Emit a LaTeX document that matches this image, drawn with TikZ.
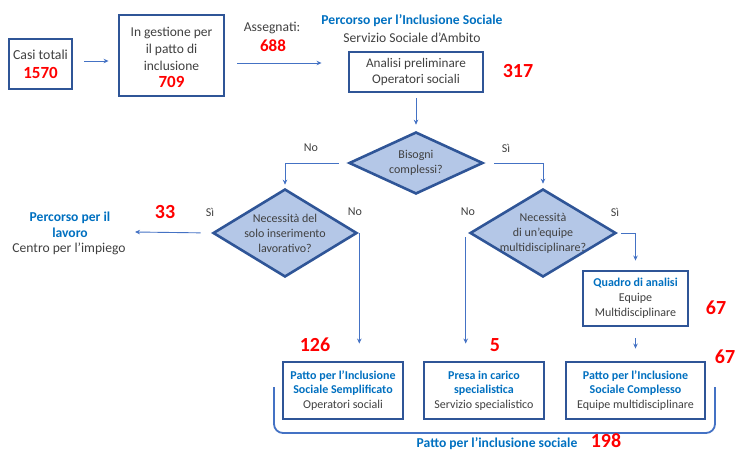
\documentclass[tikz,border=0pt]{standalone}
\usepackage{fontspec}
\setmainfont{Carlito}
\usetikzlibrary{shapes.geometric,arrows.meta}

\definecolor{boxblue}{HTML}{2F5597}
\definecolor{fillblue}{HTML}{B4C7E7}
\definecolor{linkblue}{HTML}{4472C4}
\definecolor{headblue}{HTML}{0070C0}
\definecolor{numred}{HTML}{FF0000}
\definecolor{ink}{HTML}{404040}

\newcommand{\bignum}[1]{{\color{numred}\bfseries\fontsize{17}{20}\selectfont #1}}
\newcommand{\headtxt}[1]{{\color{headblue}\bfseries #1}}

\tikzset{
  box/.style={draw=boxblue, line width=2.9pt, fill=white, inner sep=0pt,
              align=center, text=ink, font=\fontsize{12}{14.5}\selectfont},
  decision/.style={diamond, draw=boxblue, line width=2.6pt, fill=fillblue,
                   inner sep=0pt},
  dtext/.style={align=center, text=ink, font=\fontsize{12}{15}\selectfont},
  arr/.style={draw=linkblue, line width=0.9pt,
              -{Stealth[length=5pt,width=4.5pt]}},
  num/.style={text=numred, inner sep=1pt, font=\fontsize{20}{22}\selectfont\bfseries},
  lab/.style={text=ink, font=\fontsize{12}{14}\selectfont},
  plain/.style={text=ink, align=center, font=\fontsize{13.6}{16}\selectfont},
  head/.style={text=headblue, align=center,
               font=\fontsize{13.6}{16}\selectfont\bfseries},
}

\begin{document}
\begin{tikzpicture}[x=1pt,y=-1pt]
  \useasboundingbox (0,0) rectangle (737,453);

  % intake
  \node[box, minimum width=63pt, minimum height=50pt,
        font=\fontsize{13.8}{19}\selectfont] (tot) at (40.5,64)
       {Casi totali\\\bignum{1570}};
  \node[box, minimum width=105pt, minimum height=81pt,
        label={[align=center, text=ink, font=\fontsize{13.5}{16.8}\selectfont,
                yshift=-2pt]center:{In gestione per\\il patto di\\inclusione\\\bignum{709}}}]
       (gest) at (171.5,55.5) {};
  \node[plain] (ass) at (272,28) {Assegnati:};
  \node[text=numred, font=\fontsize{17}{20}\selectfont\bfseries] (n688) at (273,46) {688};

  % social inclusion path
  \node[head] (pis) at (412,21) {Percorso per l’Inclusione Sociale};
  \node[plain] (ssa) at (412,38) {Servizio Sociale d’Ambito};
  \node[box, minimum width=134pt, minimum height=40pt,
        font=\fontsize{13.2}{15.5}\selectfont] (anal) at (416,72)
       {Analisi preliminare\\Operatori sociali};
  \node[num] (n317) at (518,71) {317};

  % decisions
  \node[decision, minimum width=134pt, minimum height=62pt,
        label={[dtext]center:{Bisogni\\complessi?}}] (d1) at (416,163) {};
  \node[decision, minimum width=144pt, minimum height=88pt,
        label={[dtext]center:{Necessità del\\solo inserimento\\lavorativo?}}] (d2) at (285,233) {};
  \node[decision, minimum width=146pt, minimum height=88pt,
        label={[dtext]center:{Necessità\\di un’equipe\\multidisciplinare?}}] (d3) at (543,233) {};

  % work path
  \node[head] (lav) at (70,225) {Percorso per il\\lavoro};
  \node[plain] (cpi) at (69,249) {Centro per l’impiego};
  \coordinate (lavend) at (135,232);
  \node[num] (n33) at (165,212) {33};

  % multidisciplinary analysis
  \node[box, minimum width=105pt, minimum height=55pt,
        font=\fontsize{12}{15}\selectfont] (quad) at (635.5,298.5)
       {\headtxt{Quadro di analisi}\\Equipe\\Multidisciplinare};
  \node[num] (n67a) at (716,308) {67};

  % outcomes
  \node[box, minimum width=120pt, minimum height=57pt] (s1) at (343,390.5)
       {\headtxt{Patto per l’Inclusione}\\\headtxt{Sociale Semplificato}\\Operatori sociali};
  \node[box, minimum width=120pt, minimum height=57pt] (s2) at (484,390.5)
       {\headtxt{Presa in carico}\\\headtxt{specialistica}\\Servizio specialistico};
  \node[box, minimum width=139pt, minimum height=57pt] (s3) at (635.5,390.5)
       {\headtxt{Patto per l’Inclusione}\\\headtxt{Sociale Complesso}\\Equipe multidisciplinare};
  \node[num] (n126) at (315,345) {126};
  \node[num] (n5) at (495,345) {5};
  \node[num] (n67b) at (725,357) {67};

  % connectors
  \draw[arr, shorten <=11pt, shorten >=9pt]
    ([yshift=3pt]tot.east) -- ([yshift=3pt]tot.east -| gest.west);
  \draw[arr, shorten <=12pt, shorten >=26pt]
    ([yshift=-7.5pt]gest.east) -- ([yshift=-7.5pt]gest.east -| anal.west);
  \draw[arr, shorten <=5pt, shorten >=6pt] (anal.south) -- (d1.north);
  \draw[arr, shorten <=9pt, shorten >=3pt] (d1.west) -| (d2.north);
  \draw[arr, shorten <=10pt, shorten >=4pt] (d1.east) -| (d3.north);
  \draw[arr, shorten <=11pt] (d2.west) -- (lavend);
  \draw[arr, shorten >=17pt] ([xshift=1pt]d2.east) -- ([xshift=1pt]d2.east |- s1.north);
  \draw[arr, shorten >=17pt] ([xshift=-3pt,yshift=-4pt]d3.west) -- ([xshift=-3pt]d3.west |- s2.north);
  \draw[arr, shorten <=4pt, shorten >=9pt] (d3.east) -| (quad.north);
  \draw[arr, shorten <=11pt, shorten >=12pt] (quad.south) -- (s3.north);

  % branch labels
  \node[lab] (no1) at (311,148) {No};
  \node[lab] (si1) at (506,148) {Sì};
  \node[lab] (si2) at (210,212) {Sì};
  \node[lab] (no2) at (355,212) {No};
  \node[lab] (no3) at (468,212) {No};
  \node[lab] (si3) at (615,212) {Sì};

  % grouping bracket
  \coordinate (brl) at (274,387);
  \coordinate (brr) at (715,387);
  \draw[draw=linkblue, line width=1.8pt, rounded corners=9pt]
    (brl) -- (274,433) -- (715,433) -- (brr);
  \node[head] (pfin) at (497,444) {Patto per l’inclusione sociale};
  \node[num] (n198) at (606,441) {198};
\end{tikzpicture}
\end{document}
